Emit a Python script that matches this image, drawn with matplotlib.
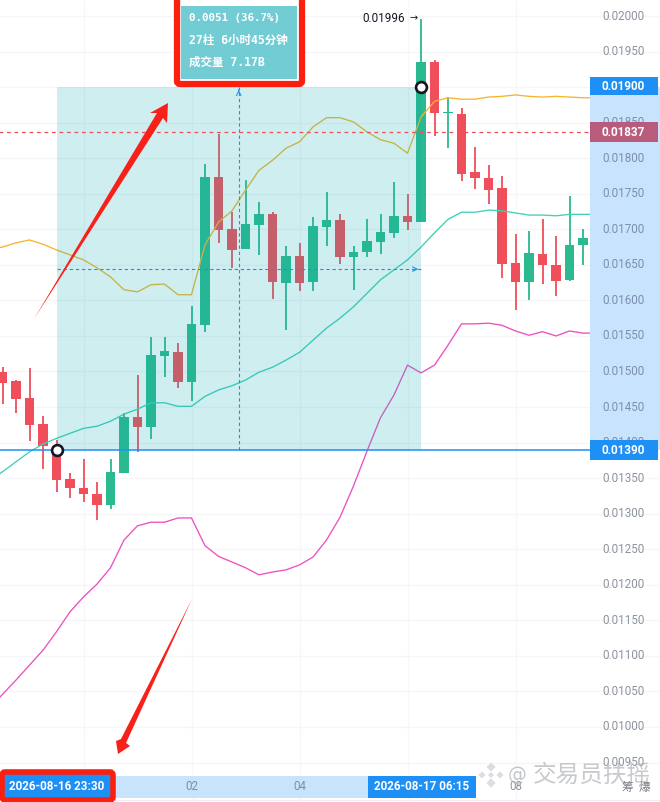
import matplotlib
matplotlib.use('Agg')
import matplotlib.pyplot as plt
from matplotlib.patches import Rectangle, FancyBboxPatch, Polygon
from matplotlib.transforms import Affine2D

# prices in 1e-5 units
opens = [1499,1487,1463,1426,1395,1349,1336,1328,1312,1357,1436,1422,1522,1527,1485,1565,1774,1700,1672,1706,1721,1625,1662,1626,1703,1713,1661,1668,1682,1695,1719,1710,1935,1864,1862,1781,1772,1758,1653,1626,1665,1650,1629,1678]
highs = [1506,1488,1505,1437,1404,1357,1377,1345,1377,1442,1495,1549,1549,1540,1592,1792,1834,1724,1769,1738,1724,1677,1681,1717,1752,1721,1677,1714,1721,1766,1750,1996,1938,1886,1871,1816,1790,1775,1693,1698,1714,1691,1747,1700]
lows = [1454,1442,1402,1363,1331,1322,1316,1291,1307,1357,1387,1405,1492,1477,1459,1556,1681,1646,1672,1664,1602,1558,1613,1613,1677,1651,1615,1661,1665,1688,1699,1710,1831,1814,1768,1757,1736,1632,1587,1601,1623,1606,1627,1650]
closes = [1484,1461,1425,1395,1347,1336,1328,1312,1359,1436,1422,1523,1529,1485,1567,1774,1699,1671,1707,1721,1626,1662,1625,1705,1713,1661,1668,1683,1696,1719,1710,1935,1864,1864,1778,1772,1755,1651,1626,1667,1650,1627,1678,1688]
# bands start one bar left of the first candle and end one bar right of the last
band_upper = [1672,1675,1681,1685,1679,1671,1664,1657,1646,1633,1615,1612,1622,1623,1608,1608,1678,1710,1726,1755,1783,1797,1814,1823,1844,1857,1857,1851,1837,1826,1821,1807,1858,1880,1885,1883,1883,1886,1887,1889,1887,1886,1887,1886,1885,1885]
band_mid = [1345,1359,1373,1387,1398,1406,1413,1420,1423,1430,1440,1447,1456,1456,1451,1451,1465,1474,1480,1488,1499,1506,1516,1527,1544,1561,1575,1591,1610,1629,1643,1657,1675,1695,1714,1724,1724,1727,1726,1723,1720,1720,1719,1721,1721,1721]
band_lower = [1025,1046,1066,1087,1108,1134,1162,1183,1201,1224,1263,1283,1288,1288,1294,1294,1255,1240,1232,1224,1214,1218,1221,1228,1239,1263,1295,1339,1388,1435,1467,1509,1498,1509,1537,1567,1567,1568,1565,1557,1551,1556,1550,1557,1554,1554]
price_ticks = [2000,1950,1900,1850,1800,1750,1700,1650,1600,1550,1500,1450,1400,1350,1300,1250,1200,1150,1100,1050,1000,950]
time_ticks = [6,14,22,30,38]
time_labels = ['', '02', '04', '', '08']
range_start, range_end = 4, 31
range_low, range_high, last_price, range_mid = 1390, 1900, 1837, 1644

UP = '#2bb98f'
DOWN = '#f04e5b'
BLUE = '#1e90f5'
STRIP = '#c8e3fc'
RED = '#f8211a'
CJK = ['DejaVu Sans Mono', 'Noto Sans CJK SC']

fig = plt.figure(figsize=(6.6, 8.02), dpi=100)
ax = fig.add_axes([0, 0, 1, 1])
ax.set_xlim(-2.5 / 13.5, 657.5 / 13.5)
ax.set_ylim(2000 - 786 * 1.40647, 2000 + 16 * 1.40647)
ax.axis('off')

# screen-pixel transform for the drawn-on annotations
px = Affine2D().scale(1 / 660, -1 / 802).translate(0, 1) + fig.transFigure

for p in price_ticks:
    ax.axhline(p, color='#f5f6f8', lw=0.9, zorder=0)
for t in time_ticks:
    ax.axvline(t, color='#f6f7f9', lw=0.9, zorder=0)

# candles
for i in range(len(opens)):
    col = UP if closes[i] >= opens[i] else DOWN
    ax.vlines(i, lows[i], highs[i], color=col, lw=1.3, zorder=2)
    h = abs(closes[i] - opens[i])
    ax.bar(i, max(h, 1), bottom=min(opens[i], closes[i]), width=0.74, color=col, zorder=2)

idx = list(range(-1, len(band_upper) - 1))
ax.plot(idx, band_upper, color='#f7b52c', lw=0.95, zorder=3)
ax.plot(idx, band_mid, color='#3fd0b8', lw=0.95, zorder=3)
ax.plot(idx, band_lower, color='#ee4fc0', lw=0.95, zorder=3)

# measured range
ax.add_patch(Rectangle((range_start, range_low), range_end - range_start, range_high - range_low,
                       facecolor='#0faab4', alpha=0.2, lw=0, zorder=4))
mid_i = (range_start + range_end) / 2
ax.plot([mid_i, mid_i], [range_low, range_high], color=BLUE, lw=0.8, ls=(0, (3, 2.5)), zorder=5)
ax.plot([range_start, range_end], [range_mid, range_mid], color=BLUE, lw=0.8, ls=(0, (3, 2.5)), zorder=5)
ax.annotate('', xy=(mid_i, range_high), xytext=(mid_i, range_high - 8),
            arrowprops=dict(arrowstyle='->', color=BLUE, lw=0.8, mutation_scale=8), zorder=5)
ax.annotate('', xy=(range_end, range_mid), xytext=(range_end - 0.6, range_mid),
            arrowprops=dict(arrowstyle='->', color=BLUE, lw=0.8, mutation_scale=8), zorder=5)

ax.plot([-1, 43.5], [range_low, range_low], color=BLUE, lw=1.1, zorder=5)
ax.plot([-1, 43.5], [last_price, last_price], color=DOWN, lw=0.9, ls=(0, (3, 3)), zorder=5)

for (ci, cp) in [(range_start, range_low), (range_end, range_high)]:
    ax.plot([ci], [cp], 'o', ms=7.8, mfc='white', mec='#131722', mew=1.9, zorder=6)

# price axis
ax.add_patch(Rectangle((590, 87), 70, 363, transform=px, fc=STRIP, lw=0, zorder=7))
for p in price_ticks:
    inside = range_low <= p <= range_high
    ax.text(623.5, 16 + (2000 - p) / 1.40647, '%.5f' % (p / 100000), transform=px, ha='center', va='center',
            family='Roboto', fontsize=8.4, color='#7b8fb0' if inside else '#8d939e', zorder=8)
for lab, yc, h, c in [('0.01900', 86, 18, BLUE), ('0.01837', 132, 20, '#b95b7c'), ('0.01390', 450, 20, BLUE)]:
    ax.add_patch(Rectangle((590, yc - h / 2), 68, h, transform=px, fc=c, lw=0, zorder=9))
    ax.text(623.5, yc, lab, transform=px, ha='center', va='center', family='Roboto',
            fontsize=8.4, fontweight='bold', color='white', zorder=10)

# tooltip
ax.add_patch(FancyBboxPatch((177, -4), 125, 88, boxstyle='round,pad=0,rounding_size=3', transform=px,
                            fc='white', ec='#fb1f10', lw=4.5, zorder=11))
ax.add_patch(Rectangle((181, 6), 116, 73, transform=px, fc='#72ccd4', lw=0, zorder=12))
for lab, yt, fs in [('0.0051 (36.7%)', 18, 7.8), ('27柱 6小时45分钟', 40, 8.3), ('成交量 7.17B', 62, 8.3)]:
    ax.text(189, yt, lab, transform=px, va='center', family=CJK, fontsize=fs,
            fontweight='bold', color='white', zorder=13)

ax.text(362, 18, '0.01996', transform=px, va='center', family='Roboto', fontsize=8.4, color='#131722', zorder=8)
ax.text(409, 18, '→', transform=px, va='center', family='DejaVu Sans', fontsize=7, color='#131722', zorder=8)

# time axis
ax.add_patch(Rectangle((0, 776), 370, 22, transform=px, fc=STRIP, lw=0, zorder=7))
ax.plot([115, 660], [800, 800], transform=px, color='#eeeff2', lw=0.8, zorder=7)
for t, lab in zip(time_ticks, time_labels):
    ax.text(2.5 + 13.5 * t, 787, lab, transform=px, ha='center', va='center', family='Roboto',
            fontsize=8.4, color='#7b8fb0' if t < 31 else '#8d939e', zorder=8)
ax.add_patch(Rectangle((368, 776), 108, 22, transform=px, fc=BLUE, lw=0, zorder=9))
ax.text(422, 787, '2026-08-17 06:15', transform=px, ha='center', va='center', family='Roboto',
        fontsize=8.4, fontweight='bold', color='white', zorder=10)
ax.add_patch(FancyBboxPatch((2, 772), 111, 28, boxstyle='round,pad=0,rounding_size=3', transform=px,
                            fc=BLUE, ec='#fb1f10', lw=4, zorder=9))
ax.text(57, 787, '2026-08-16 23:30', transform=px, ha='center', va='center', family='Roboto',
        fontsize=8.4, fontweight='bold', color='white', zorder=10)

# red arrows drawn on top
ax.add_patch(Polygon([(34, 319), (157, 113), (150, 113), (168, 103), (167, 123), (163, 118)],
                     transform=px, fc=RED, lw=0, zorder=14))
ax.add_patch(Polygon([(192, 599), (126, 743), (130, 746), (118, 754), (116, 741), (121, 739)],
                     transform=px, fc=RED, lw=0, zorder=14))

# watermark: logo diamonds plus name
for dx, dy, r in [(0, -8, 5), (-9, 0, 4), (9, 0, 4), (0, 8, 5), (0, 0, 3.5)]:
    cx, cy = 491 + dx, 775 + dy
    ax.add_patch(Polygon([(cx, cy - r), (cx + r, cy), (cx, cy + r), (cx - r, cy)], transform=px,
                         fc='#d6d8dc', ec='white', lw=0.5, alpha=0.85, zorder=15))
ax.text(508, 775, '@', transform=px, va='center', family='DejaVu Sans', fontsize=13.5, color='#b5b8bd',
        alpha=0.8, zorder=15)
ax.text(533, 775, '交易员扶摇', transform=px, va='center', family='Noto Sans CJK SC',
        fontsize=17, color='#b5b8bd', alpha=0.75, zorder=15)
ax.text(636, 788, '筹  爆', transform=px, ha='center', va='center', family='Noto Sans CJK SC', fontsize=8.5,
        color='#7c8088', zorder=16)

fig.savefig('out.png', dpi=100)
